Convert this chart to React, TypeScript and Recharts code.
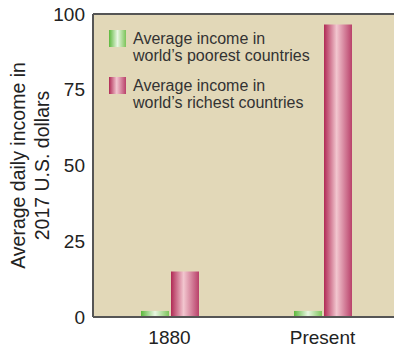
import { BarChart, Bar, XAxis, YAxis, CartesianGrid, ReferenceLine, Legend } from 'recharts';

const categories = ['1880', 'Present'];
const poorest = [2, 2];
const richest = [15, 96.5];
const yTicks = [0, 25, 50, 75, 100];

const data = categories.map((name, i) => ({ name, poorest: poorest[i], richest: richest[i] }));

const FONT = '"Liberation Sans", Arial, Helvetica, sans-serif';

const legendItems = [
  { lines: ['Average income in', 'world\u2019s poorest countries'], bg: 'linear-gradient(90deg, #5cb83c 0%, #e9f6e2 50%, #7cc45a 100%)' },
  { lines: ['Average income in', 'world\u2019s richest countries'], bg: 'linear-gradient(90deg, #b02a55 0%, #f2c6cf 45%, #b9416a 100%)' },
];

function renderLegend() {
  return (
    <div style={{ fontFamily: FONT, fontSize: 16, color: '#333', lineHeight: '17px' }}>
      {legendItems.map((item, i) => (
        <div key={i} style={{ display: 'flex', alignItems: 'flex-start', marginBottom: i === 0 ? 13 : 0 }}>
          <span style={{ width: 17, height: 17, background: item.bg, flexShrink: 0, marginRight: 7 }} />
          <div>
            {item.lines.map((l) => (
              <div key={l}>{l}</div>
            ))}
          </div>
        </div>
      ))}
    </div>
  );
}

function YLabel(props: any) {
  const { viewBox } = props;
  const cy = viewBox.y + viewBox.height / 2;
  return (
    <g>
      <text x={18} y={cy} transform={`rotate(-90 18 ${cy})`} textAnchor="middle" dominantBaseline="central" fontSize={19.5} fill="#222" fontFamily={FONT}>
        Average daily income in
      </text>
      <text x={42} y={cy} transform={`rotate(-90 42 ${cy})`} textAnchor="middle" dominantBaseline="central" fontSize={19.5} fill="#222" fontFamily={FONT}>
        2017 U.S. dollars
      </text>
    </g>
  );
}

export default function App() {
  return (
    <div style={{ position: 'absolute', left: 0, top: 0, width: 394, height: 350, background: '#fff', overflow: 'hidden' }}>
      <BarChart
        width={400}
        height={350}
        data={data}
        margin={{ top: 14, right: 1, bottom: 0, left: 0 }}
        barSize={28}
        barGap={2}
      >
        <defs>
          <linearGradient id="gradGreen" x1="0" y1="0" x2="1" y2="0">
            <stop offset="0%" stopColor="#5cb83c" />
            <stop offset="50%" stopColor="#e9f6e2" />
            <stop offset="100%" stopColor="#7cc45a" />
          </linearGradient>
          <linearGradient id="gradRed" x1="0" y1="0" x2="1" y2="0">
            <stop offset="0%" stopColor="#b02a55" />
            <stop offset="45%" stopColor="#f2c6cf" />
            <stop offset="100%" stopColor="#b9416a" />
          </linearGradient>
        </defs>
        <CartesianGrid horizontal={false} vertical={false} fill="#e2d8b8" stroke="none" />
        <XAxis
          dataKey="name"
          height={33}
          tickLine={false}
          tickSize={6}
          tickMargin={8}
          axisLine={{ stroke: '#555', strokeWidth: 2 }}
          tick={{ fontSize: 19, fill: '#222', fontFamily: FONT }}
        />
        <YAxis
          width={93}
          domain={[0, 100]}
          ticks={yTicks}
          tickLine={false}
          axisLine={{ stroke: '#555', strokeWidth: 2 }}
          tick={{ fontSize: 19, fill: '#222', fontFamily: FONT }}
          label={<YLabel />}
        />
        <ReferenceLine y={100} stroke="#555" strokeWidth={2} />
        <Legend
          layout="vertical"
          align="center"
          verticalAlign="middle"
          content={renderLegend}
          wrapperStyle={{ top: 30, left: 109, width: 240, height: 'auto' }}
        />
        <Bar dataKey="poorest" fill="url(#gradGreen)" isAnimationActive={false} />
        <Bar dataKey="richest" fill="url(#gradRed)" isAnimationActive={false} />
      </BarChart>
    </div>
  );
}
